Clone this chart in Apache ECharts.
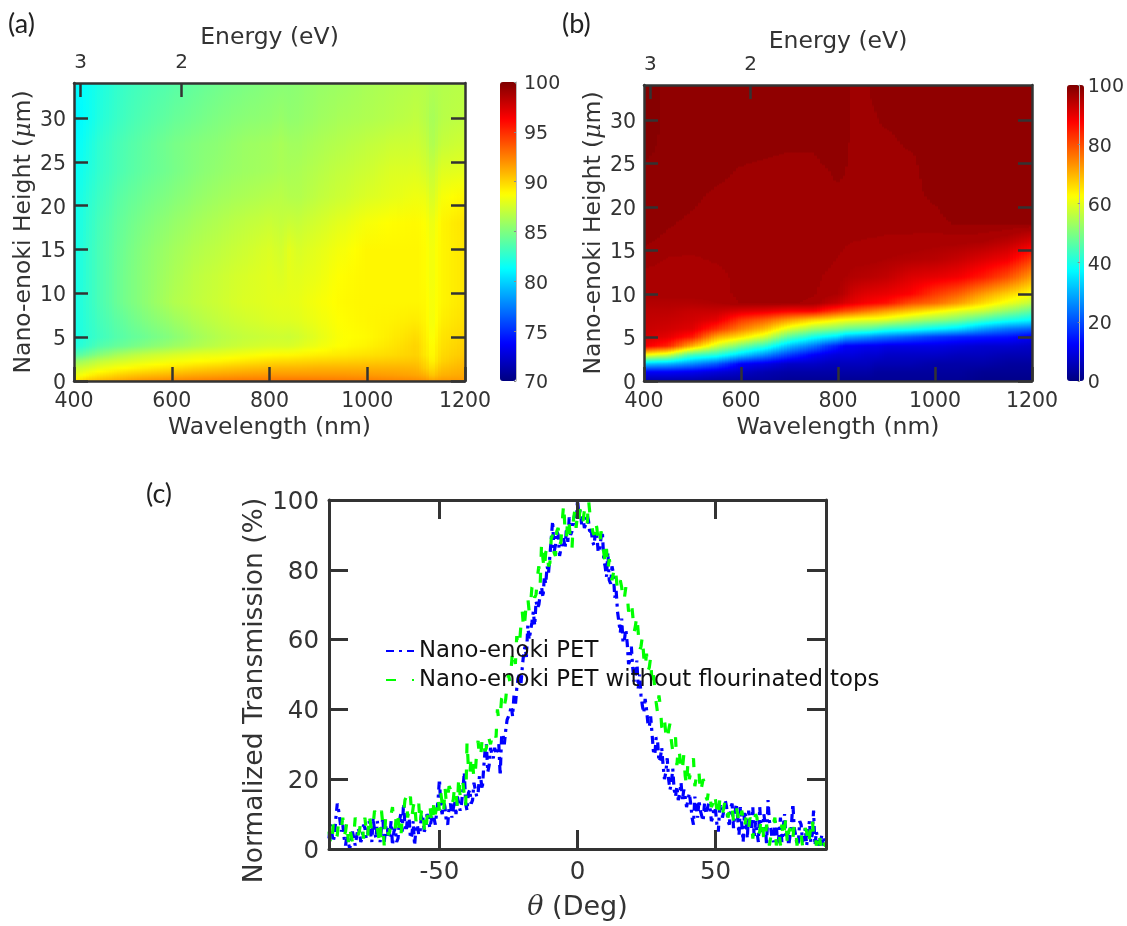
<!DOCTYPE html>
<html><head><meta charset="utf-8">
<style>html,body{margin:0;padding:0;background:#fff}#c{width:1127px;height:926px}</style>
<script src="https://cdn.jsdelivr.net/npm/echarts@6/dist/echarts.min.js"></script>
</head><body><div id="c"></div>
<script>
// Panel (a): nodes
const wavelengthsA=[400,430,460,500,540,600,650,700,750,800,825,840,860,900,950,1000,1050,1100,1120,1132,1150,1200];
const heightsA=[0,0.7,1.5,2.3,3,4,5,7,9,12,15,18,21,24,27,30,34];
const transmissionA=[ // one row per height
[89.5,90.5,91,91.5,92,92.3,92.5,92.7,92.8,92.8,92.9,92.9,92.9,92.8,92.7,92.6,92.4,92.2,92,91.5,91.8,91.8],
[88,89,89.6,90.2,90.6,91,91.3,91.5,91.7,91.8,91.8,91.8,91.8,91.8,91.8,91.7,91.6,91.4,91,90.3,91,91.3],
[87,87.6,88.2,88.7,89.1,89.6,90,90.3,90.6,90.8,90.9,90.9,90.9,91,91,91,91,90.9,90.2,89.6,90.5,91],
[85.5,86.3,87,87.5,87.9,88.4,88.7,89,89.4,89.7,89.8,89.8,89.9,90,90.1,90.2,90.3,90.4,89.8,89,90,90.7],
[83.5,84.6,85.5,86.4,87,87.6,88,88.2,88.5,88.8,88.9,88.9,89,89.2,89.4,89.6,89.8,90.1,89.4,88.8,89.8,90.4],
[82,83,83.8,84.4,85,85.8,86.4,86.9,87.3,87.6,87.6,87.6,87.8,88.3,88.8,89.1,89.5,90,89.3,88.7,89.6,90.2],
[81.8,82.6,83.2,83.9,84.4,85.2,86,86.6,87,87.2,87.3,87.2,87.4,88,88.7,88.9,89.3,89.8,89.2,88.5,89.5,90],
[81.8,82.7,83.4,84.2,84.9,85.8,86.5,87,87.4,87.7,87.8,87.8,87.9,88.3,88.8,89,89.1,89.3,89,88.3,89.2,89.7],
[81.8,82.8,83.6,84.6,85.3,86.4,86.9,87.3,87.7,87.9,88,88,88.1,88.5,88.9,89,89,89,88.9,88.4,89,89.5],
[81.7,82.8,83.6,84.6,85.3,86.2,86.8,87.2,87.6,87.9,87.7,88,87.9,88.2,88.8,89,89,89,88.8,88.3,89,89.5],
[81.7,82.8,83.6,84.5,85.2,86,86.5,86.9,87.3,87.7,87.4,88,87.6,88,88.5,89,89,89,88.8,88.3,89,89.5],
[81.6,82.7,83.5,84.3,84.9,85.6,86.1,86.5,86.9,87.2,87,87.2,87.1,87.5,88,88.5,88.8,88.9,88.7,88.1,89,89.6],
[81.5,82.5,83.2,84,84.5,85.1,85.6,86,86.3,86.6,86.7,86.5,86.5,86.9,87.3,87.7,88,88.3,88.2,87.5,88.5,89],
[81.3,82.2,82.9,83.6,84.1,84.7,85.2,85.6,85.9,86.1,86.3,86.2,86.3,86.6,87,87.3,87.7,87.8,87.5,87,87.8,88],
[81,82,82.8,83.5,84,84.7,85.1,85.4,85.8,86,86.2,86,86,86.3,86.6,86.9,87.2,87.3,87,86.3,87,87.4],
[80.8,81.6,82.4,83.1,83.6,84.2,84.6,85,85.3,85.5,85.7,85.5,85.6,85.9,86.2,86.4,86.6,86.9,86.6,86.1,86.6,86.9],
[81,81.6,82.2,82.9,83.3,83.8,84.2,84.6,84.9,85.2,85.3,85.3,85.4,85.7,85.9,86.2,86.4,86.6,86.6,86.4,86.5,86.7]
];
// Panel (b)
const wavelengthsB=[400,450,500,550,600,650,700,750,780,800,815,830,860,880,900,950,1000,1050,1100,1150,1200];
const heightsB=[0,1,2,3,4,5,6,7,8,9,10,12,14,16,18,20,22,24,26,28,30,34];
const transmissionBByColumn=[ // one row per wavelength
[4,12,32,62,89,92,93,93.5,94,95,96,96.3,97.3,98.3,99,99,99,99,99.3,99.5,99.6,99.6],
[4,12,30,57,84,90,92,93,94,95,96,96.5,96.7,97.5,98.2,99,99,99,99,99,99,99],
[4,11,26,44,70,85,90.5,92,93,95,96,96.3,96.6,97.5,97.5,98.1,98.5,99,99,99,99,99],
[3,9,21,41,58,71,83,90,93,95.5,96,96.3,97,97.3,97.4,97.3,97.9,98.6,99,99,99,99],
[3,7,12,33,49,65,75,82,91,96.9,97.3,97.3,97.3,97.3,97.4,97.3,97.3,97.7,98.6,99,99,99],
[3,5,10,26,42,58,69,78,90,97,97.3,97.3,97.3,97.3,97.3,97.3,97.3,97.3,98.2,98.9,99,99],
[2,4,7,18,31,46,59,72,88,97,97.3,97.3,97.3,97.3,97.3,97.3,97.3,97.3,97.8,98.9,99,99],
[2,4,7,12,24,39,53,67,88,96.5,96.9,97.3,97.3,97.3,97.3,97.3,97.3,97.3,97.9,98.8,99,99],
[2,4,6,10,18,36,51,65,84,94,96,96.5,97.3,97.4,97.4,97.3,97.5,97.8,98.9,99,99,99],
[2,4,6,9,15,34,50,63,82,93,95.5,96,96.7,97.4,97.4,97.3,97.5,98.8,99,99,99,99],
[2,4,6,9,12,30,48,62,80,91,94,95.5,96.4,97,97.4,97.3,97.5,98,98.5,98.8,98.8,98.9],
[2,4,6,9,12,29,47,61,79,90,92,95,96,96.8,97.4,97.3,97.3,97.3,97.3,97.3,97.3,97.3],
[2,4,6,8,11,27,46,60,76,88,90.5,94.5,96,96.7,97.3,97.3,97.3,97.3,97.3,97.3,97.4,97.9],
[2,3,5,8,11,25,44,60,74,87,90,94,95.8,96.6,97.3,97.3,97.3,97.3,97.3,97.3,97.9,98.8],
[2,3,5,7,10,24,42,59,72,86,89.5,93.5,95.5,96.5,97.3,97.3,97.3,97.3,97.3,97.5,98.6,99],
[2,3,5,7,10,21,40,55,68,80,87.5,91,95,96.4,97.3,97.3,97.3,97.5,97.8,98.8,99,99],
[2,3,4,7,10,18,37,52,64,77,82,90,94.5,96,97.5,97.9,98.8,99,99,99,99,99],
[2,3,4,6,9,16,34,49,60,72,78,88.5,93,96,98.2,99,99,99,99,99,99,99],
[1,2,4,6,8,15,28,44,57,66,72,85,91,95.5,98.2,99,99,99,99,99,99,99],
[1,2,3,5,8,14,24,40,52,61,67,80,89,94,98.2,99,99,99,99,99,99,99],
[1,2,3,5,7,11,22,37,47,56,62,72,82,91,98,99,99,99,99,99,99,99]
];
// Axis ticks
const energyTicks=[3,2];
const heightTicks=[0,5,10,15,20,25,30];
const thetaTicks=[-50,0,50];
// Panel (c), one value every half degree from -90 to 90
const thetaStart=-90, thetaStep=0.5;
const seriesNames=['Nano-enoki PET','Nano-enoki PET without flourinated tops'];
const transmissionPET=[3,7,5,2,4,9,13,11,8,5,7,3,1,4,4,0,0,5,3,1,1,6,5,2,3,7,6,3,4,8,5,2,9,5,3,8,8,2,6,9,2,6,7,3,4,8,1,5,6,2,3,8,10,5,13,7,5,10,9,3,4,8,1,6,7,4,5,10,9,5,6,10,9,6,8,11,11,7,7,14,20,12,10,14,12,8,7,12,13,9,9,14,10,15,15,11,13,17,22,13,11,16,17,13,14,19,19,15,16,21,20,17,23,28,30,22,24,29,27,26,29,27,27,30,21,32,33,30,34,37,37,39,41,38,44,41,46,49,50,47,52,56,58,55,64,60,60,65,68,64,71,69,70,73,75,72,78,76,81,79,84,89,94,85,87,91,90,84,84,88,89,86,92,88,95,90,91,94,96,93,100,96,97,93,95,92,93,96,94,90,91,88,87,91,90,85,86,89,91,83,81,78,85,77,76,81,79,72,74,68,65,62,66,59,60,63,59,53,54,58,52,48,50,54,46,50,44,41,39,43,40,36,35,38,33,28,27,32,31,25,26,29,24,20,22,26,20,17,19,23,17,15,18,14,16,19,14,17,15,12,12,16,13,9,7,15,12,9,14,11,11,8,13,10,10,13,12,8,9,12,11,7,5,12,13,9,11,14,12,8,7,12,13,6,10,13,9,4,12,7,2,11,9,3,11,7,6,12,3,8,8,2,12,6,5,10,7,1,14,8,6,3,2,8,7,1,4,9,2,6,10,3,5,1,1,7,13,6,4,1,2,8,7,2,3,6,1,5,8,2,4,11,1,5,3,1,2,4,1,3,1];
const transmissionNoTops=[5,2,1,7,6,3,4,8,8,6,9,4,5,8,2,6,6,2,4,9,9,4,5,8,7,3,9,5,3,10,10,5,7,11,11,6,6,1,11,7,1,9,8,4,5,10,12,7,6,11,9,5,3,9,10,14,15,9,13,15,9,12,14,8,10,13,7,11,12,6,4,9,10,13,9,7,14,10,12,15,11,16,13,10,18,13,15,18,17,13,14,18,16,12,21,15,15,19,19,12,31,23,21,27,25,20,22,28,31,26,27,32,32,28,29,33,33,30,30,34,34,32,40,37,38,43,44,41,43,47,50,48,52,57,56,53,61,58,59,64,68,63,66,71,72,68,70,75,76,72,73,78,81,76,88,83,80,85,86,81,82,89,90,85,84,91,92,87,88,94,99,91,89,95,93,88,86,94,97,92,96,94,98,95,94,97,97,93,100,96,94,91,90,94,92,88,87,91,89,85,82,86,80,83,81,77,77,81,78,74,74,77,75,71,72,75,73,68,68,71,67,62,64,67,62,57,58,61,55,52,56,51,52,55,47,50,46,42,39,44,41,35,34,37,33,31,34,36,31,28,28,32,24,29,27,22,23,27,21,18,25,20,20,24,26,18,18,23,22,16,16,20,19,15,14,17,15,12,13,16,14,11,9,14,13,10,12,14,13,9,11,13,12,8,9,12,10,7,8,11,11,6,9,5,6,9,8,3,7,10,9,4,5,9,8,2,3,7,7,1,1,6,6,9,1,4,5,1,7,3,6,9,1,5,6,2,3,7,6,1,1,5,4,1,2,6,5,1,3,7,9,4,5,1,2,5,1,4,3,1,1];

const INK='#333333', FONT='"DejaVu Sans"';
const JET=['#00007f','#0000ff','#007fff','#00ffff','#7fff7f','#ffff00','#ff7f00','#ff0000','#7f0000'];
const cl=v=>Math.max(0,Math.min(1,v));
function jet(v,lo,hi){const t=cl((v-lo)/(hi-lo));
  const f=c=>Math.round(255*cl(1.5-Math.abs(4*t-c)));
  return `rgb(${f(3)},${f(2)},${f(1)})`;}
function cells(xs,ys,at){const out=[];
  for(let i=0;i<xs.length-1;i++)for(let j=0;j<ys.length-1;j++)
    out.push([xs[i],ys[j],at(i,j),xs[i+1],ys[j+1],at(i+1,j),at(i,j+1),at(i+1,j+1)]);
  return out;}
const contourBands=v=>v<95.5?v:v<96.8?95.8:v<98?96.9:v<99.2?98.4:99.4;
function shadedCells(lo,hi,band,minStops){return function(params,api){
  const x0=api.value(0),y0=api.value(1),x1=api.value(3),y1=api.value(4);
  const a=api.value(2),b=api.value(5),c=api.value(6),d=api.value(7);
  const p0=api.coord([x0,y0]),p1=api.coord([x1,y1]);
  const W=p1[0]-p0[0],n=Math.max(1,Math.ceil(W/3)),w=W/n,kids=[];
  const top=Math.round(p1[1]),bottom=Math.round(p0[1]);
  for(let k=0;k<n;k++){const t=(k+.5)/n,vb=a+(b-a)*t,vt=c+(d-c)*t;
    const xl=Math.round(p0[0]+k*w),xr=Math.round(p0[0]+(k+1)*w);
    const m=Math.max(minStops,Math.ceil(Math.abs(vt-vb)/(hi-lo)*40)+1),stops=[];
    for(let s=0;s<m;s++){const o=s/(m-1);stops.push({offset:o,color:jet(band(vt+(vb-vt)*o),lo,hi)});}
    kids.push({type:'rect',silent:true,shape:{x:xl,y:top,width:xr-xl,height:bottom-top},
      style:{fill:{type:'linear',x:0,y:0,x2:0,y2:1,global:false,colorStops:stops}}});}
  return {type:'group',children:kids};};}

const line=(w)=>({onZero:false,lineStyle:{color:INK,width:w}});
const tick=(len,w)=>({show:true,inside:true,length:len,lineStyle:{color:INK,width:w||2.5}});
const lab=(sz)=>({color:INK,fontFamily:FONT,fontSize:sz,margin:8,formatter:v=>String(v)});
const labY=(sz)=>({color:INK,fontFamily:FONT,fontSize:sz,margin:8,verticalAlignMinLabel:'middle',verticalAlignMaxLabel:'middle',
  formatter:v=>'{a|'+v+'}',rich:{a:{color:INK,fontFamily:FONT,fontSize:sz,padding:[5,0,0,0]}}});
const nameStyle=(sz,rich)=>({color:INK,fontFamily:FONT,fontSize:sz,rich});
function heatAxes(grid,eGap,nGap){
  const x=[{gridIndex:grid,type:'value',min:400,max:1200,interval:200,position:'bottom',z:5,splitLine:{show:false},axisLine:line(2.5),axisTick:tick(14),
      axisLabel:Object.assign(lab(20.5),{margin:10}),
      name:'Wavelength (nm)',nameLocation:'middle',nameGap:35,nameTextStyle:nameStyle(23.5)},
    {gridIndex:grid,type:'value',min:400,max:1200,position:'top',z:5,splitLine:{show:false},axisLine:line(2.5),
      axisTick:Object.assign(tick(14),{customValues:energyTicks.map(e=>1240/e)}),
      axisLabel:Object.assign(lab(20),{margin:10,customValues:energyTicks.map(e=>1240/e),formatter:v=>String(Math.round(1240/v))}),
      name:'Energy (eV)',nameLocation:'middle',nameGap:eGap,nameTextStyle:nameStyle(23.5)}];
  const y=[{gridIndex:grid,type:'value',min:0,max:34,position:'left',z:5,splitLine:{show:false},axisLine:line(2.5),
      axisTick:Object.assign(tick(14),{customValues:heightTicks}),
      axisLabel:Object.assign(labY(20.5),{customValues:heightTicks}),
      name:'Nano-enoki Height ({m|μ}m)',nameLocation:'middle',nameGap:nGap,
      nameTextStyle:nameStyle(23.5,{m:{fontStyle:'italic',fontFamily:'"DejaVu Serif"',fontSize:23.5,color:INK}})},
    {gridIndex:grid,type:'value',min:0,max:34,position:'right',z:5,splitLine:{show:false},axisLine:line(2.5),axisTick:Object.assign(tick(14),{customValues:heightTicks}),axisLabel:{show:false}}];
  return {x,y};}
function barAxes(grid,lo,hi,step){
  return {x:[{gridIndex:grid,type:'value',show:false,min:0,max:1}],
    y:[{gridIndex:grid,type:'value',min:lo,max:hi,interval:step,position:'right',z:5,splitLine:{show:false},
      axisLine:{onZero:false,lineStyle:{color:'#bbbbbb',width:1}},axisTick:{show:true,inside:true,length:2,lineStyle:{color:'#888888'}},
      axisLabel:labY(19)}]};}
const A=heatAxes(0,33,36),B=heatAxes(1,31,35),CA=barAxes(3,70,100,5),CB=barAxes(4,0,100,20);
const cTick=[{gridIndex:2,type:'value',min:-90,max:90,position:'bottom',z:5,splitLine:{show:false},
    axisLine:line(3),axisTick:Object.assign(tick(19,3),{customValues:thetaTicks}),
    axisLabel:Object.assign(lab(24.5),{margin:11,customValues:thetaTicks}),
    name:'{i|θ} (Deg)',nameLocation:'middle',nameGap:45,nameTextStyle:nameStyle(27,{i:{fontStyle:'italic',fontFamily:'"DejaVu Serif"',fontSize:27,color:INK}})},
  {gridIndex:2,type:'value',min:-90,max:90,position:'top',z:5,splitLine:{show:false},axisLine:line(3),
    axisTick:Object.assign(tick(19,3),{customValues:thetaTicks}),axisLabel:{show:false}}];
const cY=[{gridIndex:2,type:'value',min:0,max:100,interval:20,position:'left',z:5,splitLine:{show:false},axisLine:line(3),
    axisTick:tick(19,3),axisLabel:Object.assign(labY(24.5),{margin:10}),
    name:'Normalized Transmission (%)',nameLocation:'middle',nameGap:59,
    nameTextStyle:Object.assign(nameStyle(26.6),{padding:[0,32,0,0]})},
  {gridIndex:2,type:'value',min:0,max:100,interval:20,position:'right',z:5,splitLine:{show:false},axisLine:line(3),axisTick:tick(19,3),axisLabel:{show:false}}];
const withTheta=a=>a.map((v,i)=>[thetaStart+i*thetaStep,v]);
const panelLabel=(t,x,y)=>({type:'text',left:x,top:y,style:{text:t,font:'27px Lato',fill:'#222'}});
const chart=echarts.init(document.getElementById('c'),null,{renderer:'canvas'});
chart.setOption({animation:false,backgroundColor:'#fff',
  grid:[{left:74,top:83,width:391,height:298},{left:644,top:85,width:388,height:296},{left:329,top:500,width:497,height:349},
    {left:500,top:82,width:16,height:299},{left:1067,top:85,width:17,height:296}],
  xAxis:[...A.x,...B.x,...cTick,...CA.x,...CB.x],
  yAxis:[...A.y,...B.y,...cY,...CA.y,...CB.y],
  visualMap:[{type:'continuous',min:70,max:100,seriesIndex:0,dimension:2,left:500,top:82,itemWidth:16,itemHeight:299,padding:0,calculable:false,showLabel:false,inRange:{color:JET},text:null,hoverLink:false,realtime:false},
    {type:'continuous',min:0,max:100,seriesIndex:1,dimension:2,left:1067,top:85,itemWidth:17,itemHeight:296,padding:0,calculable:false,showLabel:false,inRange:{color:JET},text:null,hoverLink:false,realtime:false}],
  legend:{left:380,top:634,orient:'vertical',itemWidth:28,itemHeight:14,itemGap:5,data:seriesNames,itemStyle:{opacity:0},
    textStyle:{color:'#111',fontFamily:FONT,fontSize:22.8,lineHeight:24},selectedMode:false},
  graphic:[panelLabel('(a)',8,11),panelLabel('(b)',562,11),panelLabel('(c)',146,481)],
  series:[
   {type:'custom',xAxisIndex:0,yAxisIndex:0,silent:true,z:1,coordinateSystem:'cartesian2d',renderItem:shadedCells(70,100,v=>v,2),encode:{x:0,y:1},
     data:cells(wavelengthsA,heightsA,(i,j)=>transmissionA[j][i])},
   {type:'custom',xAxisIndex:2,yAxisIndex:2,silent:true,z:1,coordinateSystem:'cartesian2d',renderItem:shadedCells(0,100,contourBands,12),encode:{x:0,y:1},
     data:cells(wavelengthsB,heightsB,(i,j)=>transmissionBByColumn[i][j])},
   {type:'line',name:seriesNames[0],xAxisIndex:4,yAxisIndex:4,showSymbol:false,symbol:'none',data:withTheta(transmissionPET),z:2,
     lineStyle:{color:'#0000ff',width:3.2,type:[8,5,3,5]},itemStyle:{color:'#0000ff'}},
   {type:'line',name:seriesNames[1],xAxisIndex:4,yAxisIndex:4,showSymbol:false,symbol:'none',data:withTheta(transmissionNoTops),z:3,
     lineStyle:{color:'#00ff00',width:3.2,type:[10,16]},itemStyle:{color:'#00ff00'}}
  ]});
</script></body></html>
